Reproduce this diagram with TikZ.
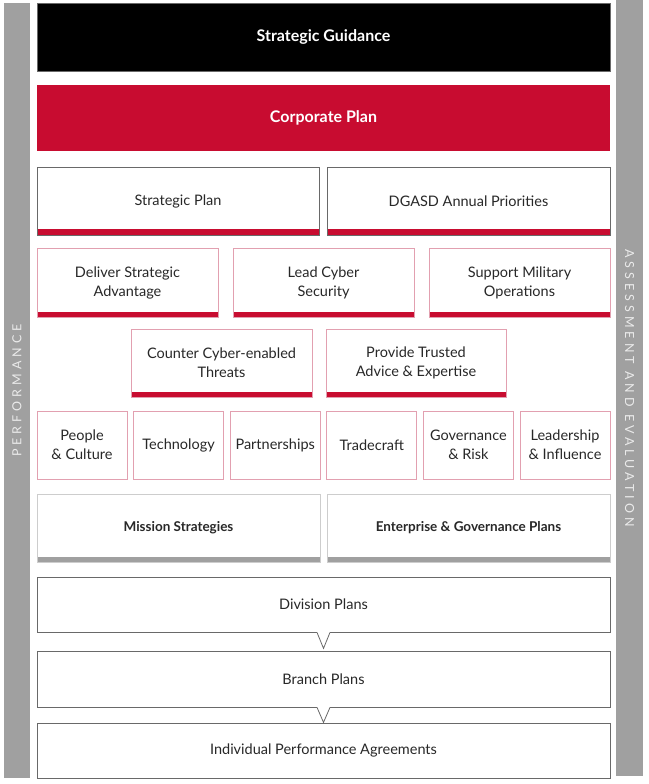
\documentclass[tikz,border=0pt]{standalone}
\usepackage{fontspec}
\usepackage{tikz}
\setmainfont{Lato}
\newfontfamily\barfont[LetterSpace=32]{Lato}

\definecolor{crimson}{RGB}{200,12,48}
\definecolor{bargray}{RGB}{160,160,160}
\definecolor{pinkline}{RGB}{226,160,176}
\definecolor{lightline}{RGB}{205,205,205}
\definecolor{darkline}{RGB}{105,105,105}
\definecolor{ink}{RGB}{40,40,40}

\newcommand{\planfont}{\fontsize{14.5}{19}\selectfont}
\newcommand{\headfont}{\fontsize{16}{19}\selectfont\bfseries}
\newcommand{\stratfont}{\fontsize{13.5}{19}\selectfont\bfseries}

\tikzset{
	box/.style={draw=#1, fill=white, line width=0.8pt, inner sep=0pt, align=center, font=\planfont, text=ink},
	foot/.style 2 args={path picture={\fill[#1] ([yshift=#2]path picture bounding box.south west) rectangle (path picture bounding box.south east);}},
	sidebar/.style={fill=bargray, rotate=#1, minimum width=775pt, inner sep=0pt, text=white!92!black, font=\barfont\fontsize{12.5}{14}\selectfont},
	cascade/.style={box=darkline, minimum width=573pt},
	notch/.style={draw=darkline, line width=0.8pt, fill=white}
}

\begin{document}
\begin{tikzpicture}[x=1pt, y=-1pt]
		\useasboundingbox (0,0) rectangle (648,784);

		\node [sidebar=90, minimum height=26pt] (perf) at (17,390.5) {PERFORMANCE};
		\node [sidebar=-90, minimum height=27pt] (assess) at (629.5,388) {ASSESSMENT AND EVALUATION};

		\node [fill=black, draw=darkline, line width=0.6pt, minimum width=573pt, minimum height=68pt, text=white, font=\headfont] (guide) at (323.5,37) {Strategic Guidance};
		\node [fill=crimson, minimum width=573pt, minimum height=66pt, text=white, font=\headfont] (corp) at (323.5,118) {Corporate Plan};

		\node [box=darkline, foot={crimson}{6pt}, minimum width=282pt, minimum height=68pt] (splan) at (178,201) {Strategic Plan};
		\node [box=darkline, foot={crimson}{6pt}, minimum width=283pt, minimum height=68pt] (dgasd) at (468.5,201) {DGASD Annual Priorities};

		\node [box=pinkline, foot={crimson}{5pt}, minimum width=181pt, minimum height=69pt] (deliver) at (127.5,282.5) {Deliver Strategic\\Advantage};
		\node [box=pinkline, foot={crimson}{5pt}, minimum width=181pt, minimum height=69pt] (lead) at (323.5,282.5) {Lead Cyber\\Security};
		\node [box=pinkline, foot={crimson}{5pt}, minimum width=181pt, minimum height=69pt] (support) at (519.5,282.5) {Support Military\\Operations};

		\node [box=pinkline, foot={crimson}{5pt}, minimum width=181pt, minimum height=68pt] (counter) at (221.5,363) {Counter Cyber-enabled\\Threats};
		\node [box=pinkline, foot={crimson}{5pt}, minimum width=180pt, minimum height=68pt] (advice) at (416,363) {Provide Trusted\\Advice \& Expertise};

		\node [box=pinkline, minimum width=90pt, minimum height=68pt] (people) at (82,445) {People\\\& Culture};
		\node [box=pinkline, minimum width=90pt, minimum height=68pt] (tech) at (178.6,445) {Technology};
		\node [box=pinkline, minimum width=90pt, minimum height=68pt] (partner) at (275.2,445) {Partnerships};
		\node [box=pinkline, minimum width=90pt, minimum height=68pt] (trade) at (371.8,445) {Tradecraft};
		\node [box=pinkline, minimum width=90pt, minimum height=68pt] (gov) at (468.4,445) {Governance\\\& Risk};
		\node [box=pinkline, minimum width=90pt, minimum height=68pt] (leader) at (565,445) {Leadership\\\& Influence};

		\node [box=lightline, foot={bargray}{5pt}, minimum width=283pt, minimum height=68pt, font=\stratfont] (mission) at (178.5,528) {Mission Strategies};
		\node [box=lightline, foot={bargray}{5pt}, minimum width=283pt, minimum height=68pt, font=\stratfont] (enterprise) at (468.5,528) {Enterprise \& Governance Plans};

		\node [cascade, minimum height=55pt] (division) at (323.5,604.5) {Division Plans};
		\node [cascade, minimum height=56pt] (branch) at (323.5,679) {Branch Plans};
		\node [box=darkline, minimum width=573pt, minimum height=55pt] (individual) at (323.5,750.5) {Individual Performance Agreements};

		% V notches under the cascade boxes
		\fill [white] ([xshift=-6.5pt, yshift=0.8pt]division.south) -- ([yshift=-16pt]division.south) -- ([xshift=6.5pt, yshift=0.8pt]division.south) -- cycle;
		\draw [notch] ([xshift=-6.5pt]division.south) -- ([yshift=-16pt]division.south) -- ([xshift=6.5pt]division.south);
		\fill [white] ([xshift=-6.5pt, yshift=0.8pt]branch.south) -- ([yshift=-15pt]branch.south) -- ([xshift=6.5pt, yshift=0.8pt]branch.south) -- cycle;
		\draw [notch] ([xshift=-6.5pt]branch.south) -- ([yshift=-15pt]branch.south) -- ([xshift=6.5pt]branch.south);
	\end{tikzpicture}
\end{document}
